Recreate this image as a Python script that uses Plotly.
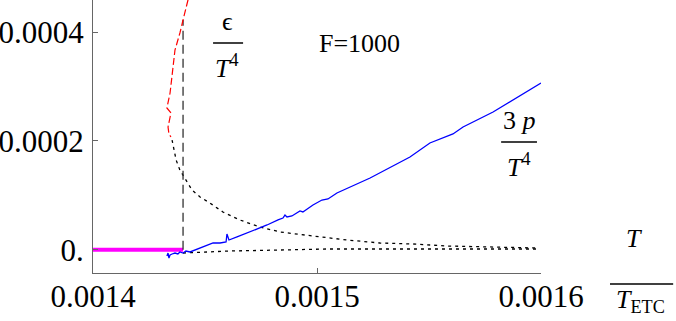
import plotly.graph_objects as go

# ---- data ----
red_x = [0.0014433, 0.0014424, 0.0014402, 0.0014388, 0.0014366, 0.0014353, 0.0014344,
         0.0014330, 0.0014348, 0.0014335, 0.0014339, 0.0014348]
red_y = [4.78e-4, 4.594e-4, 4.226e-4, 3.987e-4, 3.674e-4, 3.251e-4, 2.883e-4,
         2.607e-4, 2.515e-4, 2.258e-4, 2.130e-4, 2.074e-4]

upper_x = [0.0014353, 0.0014362, 0.0014371, 0.0014388, 0.0014415, 0.0014442, 0.0014478,
           0.0014522, 0.0014580, 0.0014656, 0.0014745, 0.0014835, 0.0014982, 0.0015134,
           0.0015281, 0.0015428, 0.0015580, 0.0015728, 0.0015982]
upper_y = [2.018e-4, 1.834e-4, 1.650e-4, 1.466e-4, 1.282e-4, 1.098e-4, 0.970e-4,
           0.859e-4, 0.694e-4, 0.546e-4, 0.418e-4, 0.326e-4, 0.252e-4, 0.179e-4,
           0.123e-4, 0.105e-4, 0.068e-4, 0.050e-4, 0.031e-4]

lower_x = [0.0014402, 0.0014612, 0.0014835, 0.0015045, 0.0015371, 0.0015982]
lower_y = [-0.061e-4, -0.024e-4, -0.006e-4, 0.013e-4, 0.013e-4, 0.013e-4]

blue_x = [0.0014330, 0.0014335, 0.0014339, 0.0014344, 0.0014353, 0.0014366, 0.0014379,
          0.0014388, 0.0014402, 0.0014415, 0.0014433, 0.0014455, 0.0014478, 0.0014500,
          0.0014536, 0.0014567, 0.0014594, 0.0014598, 0.0014603, 0.0014607, 0.0014643,
          0.0014688, 0.0014732, 0.0014777, 0.0014826, 0.0014848, 0.0014857, 0.0014866,
          0.0014888, 0.0014911, 0.0014924, 0.0014937, 0.0014982, 0.0015022, 0.0015049,
          0.0015089, 0.0015237, 0.0015415, 0.0015460, 0.0015504, 0.0015607, 0.0015652,
          0.0015786, 0.0016000]
blue_y = [-0.116e-4, -0.061e-4, -0.153e-4, -0.098e-4, -0.079e-4, -0.061e-4, -0.079e-4,
          -0.042e-4, -0.061e-4, -0.024e-4, -0.042e-4, -0.006e-4, 0.031e-4, 0.068e-4,
          0.123e-4, 0.123e-4, 0.142e-4, 0.289e-4, 0.197e-4, 0.178e-4, 0.234e-4,
          0.307e-4, 0.381e-4, 0.455e-4, 0.547e-4, 0.583e-4, 0.638e-4, 0.602e-4,
          0.620e-4, 0.675e-4, 0.712e-4, 0.694e-4, 0.822e-4, 0.914e-4, 0.933e-4,
          1.043e-4, 1.319e-4, 1.706e-4, 1.834e-4, 1.963e-4, 2.129e-4, 2.258e-4,
          2.534e-4, 3.067e-4]

magenta_x = [0.0014, 0.0014402]
magenta_y = [0.0, 0.0]

vline_x = [0.0014402, 0.0014402]
vline_y = [0.0, 4.226e-4]

x_ticks = [0.0014, 0.0015, 0.0016]
x_ticktext = ["0.0014", "0.0015", "0.0016"]
y_ticks = [0.0, 0.0002, 0.0004]
y_ticktext = ["0.", "0.0002", "0.0004"]

x_range = [0.0014, 0.0016]
y_range = [-0.4287e-4, 4.594e-4]

SERIF = "Liberation Serif"

fig = go.Figure()
fig.add_trace(go.Scatter(x=magenta_x, y=magenta_y, mode="lines",
                         line=dict(color="#ff00ff", width=4), cliponaxis=False))
fig.add_trace(go.Scatter(x=upper_x, y=upper_y, mode="lines",
                         line=dict(color="black", width=1.3, dash="3px,4px")))
fig.add_trace(go.Scatter(x=lower_x, y=lower_y, mode="lines",
                         line=dict(color="black", width=1.3, dash="3px,4px")))
fig.add_trace(go.Scatter(x=vline_x, y=vline_y, mode="lines",
                         line=dict(color="#333333", width=1.3, dash="9px,5px")))
fig.add_trace(go.Scatter(x=red_x, y=red_y, mode="lines",
                         line=dict(color="#ff0000", width=1.2, dash="7px,3px")))
fig.add_trace(go.Scatter(x=blue_x, y=blue_y, mode="lines",
                         line=dict(color="#0000ff", width=1.3)))

ann_font = dict(family=SERIF, size=26, color="black")
annotations = [
    dict(x=0.594, y=0.839, text="F=1000"),
    dict(x=0.300, y=0.923, text="ϵ"),
    dict(x=0.300, y=0.758, text="<i>T</i><sup>4</sup>"),
    dict(x=0.951, y=0.557, text="3 <i>p</i>"),
    dict(x=0.951, y=0.392, text="<i>T</i><sup>4</sup>"),
    dict(x=1.208, y=0.128, text="<i>T</i>"),
    dict(x=1.223, y=-0.103, text="<i>T</i><sub>ETC</sub>"),
]
for a in annotations:
    a.update(xref="paper", yref="paper", showarrow=False, font=ann_font,
             xanchor="center", yanchor="middle")

frac_lines = [
    (0.268, 0.335, 0.8425),
    (0.911, 0.991, 0.480),
    (1.154, 1.295, -0.040),
]
shapes = [dict(type="line", xref="paper", yref="paper", x0=a, x1=b, y0=y, y1=y,
               line=dict(color="black", width=1.5)) for a, b, y in frac_lines]

fig.update_layout(
    template="none",
    width=676, height=321,
    margin=dict(l=93, r=135, t=0, b=48, autoexpand=False),
    paper_bgcolor="white", plot_bgcolor="white",
    showlegend=False,
    annotations=annotations,
    shapes=shapes,
    xaxis=dict(range=x_range, tickvals=x_ticks, ticktext=x_ticktext, automargin=False,
               showgrid=False, zeroline=False, showline=True, linecolor="#666666",
               linewidth=1, ticks="inside", ticklen=5, tickcolor="#666666",
               ticklabelstandoff=-4,
               tickfont=dict(family=SERIF, size=31, color="black")),
    yaxis=dict(range=y_range, tickvals=y_ticks, ticktext=y_ticktext, automargin=False,
               showgrid=False, zeroline=False, showline=True, linecolor="#666666",
               linewidth=1, ticks="inside", ticklen=5, tickcolor="#666666",
               ticklabelstandoff=2,
               tickfont=dict(family=SERIF, size=31, color="black")),
)

fig.write_html("out.html", config={"displayModeBar": False},
               post_script="document.body.style.margin='0px';document.body.style.overflow='hidden';")
